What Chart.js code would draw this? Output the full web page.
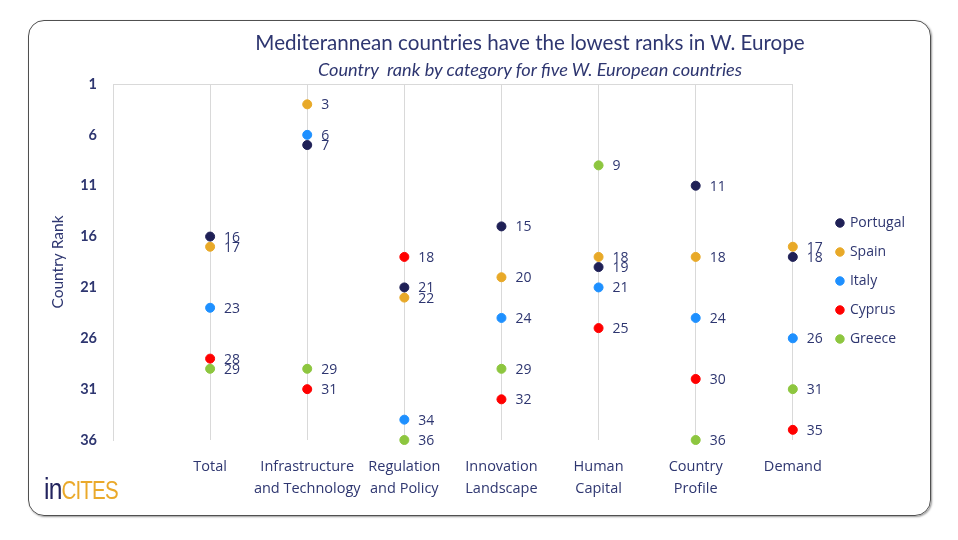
<!DOCTYPE html>
<html><head><meta charset="utf-8">
<script src="https://cdn.jsdelivr.net/npm/chart.js@4"></script>
<style>
html,body{margin:0;padding:0;background:#fff;}
#wrap{position:relative;width:958px;height:540px;overflow:hidden;}
#frame{position:absolute;left:28px;top:20px;width:901px;height:494px;border:1.5px solid #505050;border-radius:16px;box-shadow:1px 1px 2px #999;}
#c{position:absolute;left:0;top:0;}
.t{position:absolute;left:0;width:1060px;text-align:center;color:#2e3670;font-family:Lato,"Open Sans",sans-serif;}
#title{top:30px;font-size:20.6px;}
#sub{top:58px;font-size:18.2px;font-style:italic;}
#logo{position:absolute;left:44px;top:472px;font-family:"Liberation Sans Narrow","Liberation Sans",sans-serif;font-size:30px;letter-spacing:-1px;transform:scaleX(0.82);transform-origin:left center;}
#logo .a{color:#23245e;}
#logo .b{color:#eaa92a;font-size:25px;}
</style></head>
<body><div id="wrap">
<div id="frame"></div>
<canvas id="c" width="958" height="540"></canvas>
<div class="t" id="title">Mediterannean countries have the lowest ranks in W. Europe</div>
<div class="t" id="sub">Country &nbsp;rank by category for five W. European countries</div>
<div id="logo"><span class="a">in</span><span class="b">CITES</span></div>
</div>
<script>
const categories = [["Total"],["Infrastructure","and Technology"],["Regulation","and Policy"],["Innovation","Landscape"],["Human","Capital"],["Country","Profile"],["Demand"]];
const countries = ["Portugal","Spain","Italy","Cyprus","Greece"];
const portugal = [16,7,21,15,19,11,18];
const spain    = [17,3,22,20,18,18,17];
const italy    = [23,6,34,24,21,24,26];
const cyprus   = [28,31,18,32,25,30,35];
const greece   = [29,29,36,29,9,36,31];
const yTicks = [1,6,11,16,21,26,31,36];

const seriesValues = [portugal,spain,italy,cyprus,greece];
const colors = ["#1f2056","#e8a928","#1e90ff","#ff0000","#8dc63f"];
const textColor = "#2e3670";
const FONT = '"Open Sans", Lato, sans-serif';
const FONT2 = 'Lato, "Open Sans", sans-serif';

const datasets = countries.map((name,i)=>({
  label:name,
  data: seriesValues[i].map((v,j)=>({x:j+1,y:v})),
  backgroundColor:colors[i],
  borderColor:colors[i],
  pointRadius:4.5,
  pointHoverRadius:4.5,
  showLine:false,
  clip:false
}));

const labelPlugin = {
  id:'valueLabels',
  afterLayout(chart){
    // let the multi-line category labels draw below the fitted axis box
    chart.scales.x.bottom = chart.height;
  },
  afterDatasetsDraw(chart){
    const ctx = chart.ctx;
    ctx.save();
    ctx.font = '14px ' + FONT;
    ctx.fillStyle = textColor;
    ctx.textAlign = 'left';
    ctx.textBaseline = 'middle';
    chart.data.datasets.forEach((ds,i)=>{
      chart.getDatasetMeta(i).data.forEach((pt,j)=>{
        ctx.fillText(String(ds.data[j].y), pt.x + 14, pt.y + 1);
      });
    });
    ctx.restore();
  }
};
const topLinePlugin = {
  id:'topLine',
  beforeDatasetsDraw(chart){
    const x = chart.scales.x, y = chart.scales.y, ctx = chart.ctx;
    ctx.save();
    ctx.strokeStyle = '#d9d9d9'; ctx.lineWidth = 1;
    ctx.beginPath();
    const yy = Math.round(y.getPixelForValue(yTicks[0])) + 0.5;
    ctx.moveTo(x.getPixelForValue(0), yy);
    ctx.lineTo(x.getPixelForValue(categories.length), yy);
    ctx.stroke();
    ctx.restore();
  }
};

new Chart(document.getElementById('c'), {
  type:'scatter',
  data:{datasets},
  plugins:[labelPlugin, topLinePlugin],
  options:{
    responsive:false,
    animation:false,
    events:[],
    layout:{padding:{left:49,top:84,right:43,bottom:62}},
    plugins:{
      title:{display:false},
      tooltip:{enabled:false},
      legend:{
        position:'right',
        align:'center',
        labels:{
          usePointStyle:true, pointStyle:'circle',
          boxWidth:6, boxHeight:6,
          padding:15,
          color:textColor,
          font:{family:FONT,size:14}
        }
      }
    },
    scales:{
      x:{
        type:'linear', min:0, max:7.3,
        afterBuildTicks:s=>{ s.ticks = categories.map((_,i)=>({value:i+1})); },
        afterFit:s=>{ s.height = 38; },
        ticks:{
          padding:16,
          maxRotation:0, autoSkip:false,
          color:textColor,
          font:{family:FONT,size:14.5,lineHeight:1.5},
          callback:v=>categories[v-1] || ''
        },
        grid:{color:'#d9d9d9', drawTicks:false, lineWidth:1},
        border:{display:false}
      },
      y:{
        reverse:true, min:1, max:36,
        afterBuildTicks:s=>{ s.ticks = yTicks.map(v=>({value:v})); },
        afterFit:s=>{ s.width = 64; },
        title:{display:true, text:'Country Rank', color:textColor, font:{family:FONT2,size:15.5}, padding:0},
        ticks:{padding:8, color:textColor, font:{family:FONT2,size:14.5,weight:'bold'}},
        grid:{display:false},
        border:{display:true, color:'#d9d9d9'}
      }
    }
  }
});
</script>
</body></html>
